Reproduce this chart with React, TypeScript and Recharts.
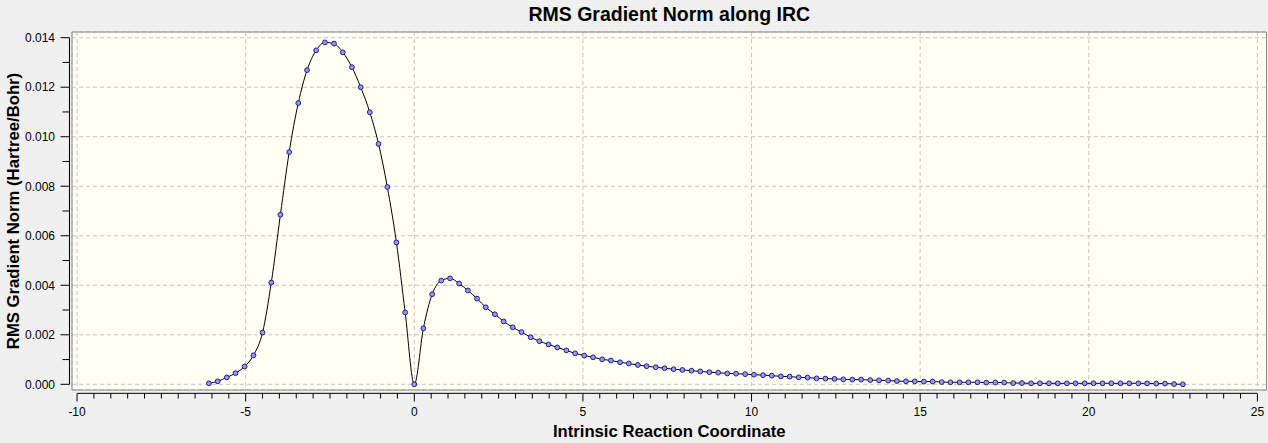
import React from 'react';
import { LineChart, Line, XAxis, YAxis, CartesianGrid, ReferenceLine, ReferenceArea } from 'recharts';

// IRC coordinate and RMS gradient norm (Hartree/Bohr), reverse direction (to the left of TS)
const IRC_X_REVERSE = [-6.09, -5.83, -5.56, -5.30, -5.03, -4.77, -4.50, -4.24, -3.97, -3.71, -3.44, -3.18, -2.91, -2.65, -2.38, -2.12, -1.85, -1.59, -1.32, -1.06, -0.80, -0.53, -0.27, 0];
const RMS_REVERSE = [0.00004, 0.00012, 0.00028, 0.00045, 0.00072, 0.00117, 0.00209, 0.00411, 0.00685, 0.00938, 0.01136, 0.01269, 0.01349, 0.01381, 0.01376, 0.01341, 0.01281, 0.01200, 0.01099, 0.00971, 0.00797, 0.00573, 0.00290, 0.00000];

// forward direction (to the right of TS)
const IRC_X_FORWARD = [0.27, 0.53, 0.80, 1.06, 1.33, 1.59, 1.86, 2.12, 2.39, 2.65,
  2.92, 3.18, 3.45, 3.71, 3.98, 4.24, 4.51, 4.77, 5.04, 5.30,
  5.57, 5.83, 6.10, 6.36, 6.63, 6.89, 7.16, 7.42, 7.69, 7.95,
  8.22, 8.48, 8.75, 9.01, 9.28, 9.54, 9.81, 10.07, 10.34, 10.60,
  10.87, 11.13, 11.40, 11.66, 11.93, 12.19, 12.46, 12.72, 12.99, 13.25,
  13.52, 13.78, 14.05, 14.31, 14.58, 14.84, 15.11, 15.37, 15.64, 15.90,
  16.17, 16.43, 16.70, 16.96, 17.23, 17.49, 17.76, 18.02, 18.29, 18.55,
  18.82, 19.08, 19.35, 19.61, 19.88, 20.14, 20.41, 20.67, 20.94, 21.20,
  21.47, 21.73, 22.00, 22.26, 22.53, 22.79];
const RMS_FORWARD = [0.00226, 0.00364, 0.00419, 0.00428, 0.00407, 0.00379, 0.00346, 0.00311, 0.00283, 0.00254,
  0.00230, 0.00211, 0.00190, 0.00174, 0.00161, 0.00149, 0.00137, 0.00125, 0.00116, 0.00109,
  0.00101, 0.00096, 0.00089, 0.00084, 0.00078, 0.00073, 0.00069, 0.00065, 0.00061, 0.00058,
  0.00055, 0.00052, 0.00049, 0.00047, 0.00044, 0.00043, 0.00041, 0.00039, 0.00037, 0.00035,
  0.00032, 0.00031, 0.00028, 0.00027, 0.00024, 0.00023, 0.00022, 0.00020, 0.00019, 0.00019,
  0.00017, 0.00016, 0.00015, 0.00013, 0.00012, 0.00012, 0.00011, 0.00011, 0.00009, 0.00008,
  0.00008, 0.00008, 0.00008, 0.00007, 0.00007, 0.00007, 0.00005, 0.00005, 0.00004, 0.00004,
  0.00004, 0.00004, 0.00004, 0.00004, 0.00004, 0.00004, 0.00004, 0.00004, 0.00004, 0.00004,
  0.00004, 0.00004, 0.00003, 0.00003, 0.00001, 0.00000];

const X_MAJOR_TICKS = [-10, -5, 0, 5, 10, 15, 20, 25];
const Y_MAJOR_TICKS = [0, 0.002, 0.004, 0.006, 0.008, 0.010, 0.012, 0.014];
const X_MINOR_STEP = 0.5;
const Y_MINOR_STEP = 0.001;

const X_DOMAIN: [number, number] = [-10.15, 25.27];
const Y_DOMAIN: [number, number] = [-0.00023, 0.01423];

const TITLE = 'RMS Gradient Norm along IRC';
const X_LABEL = 'Intrinsic Reaction Coordinate';
const Y_LABEL = 'RMS Gradient Norm (Hartree/Bohr)';

const X_MINOR_TICKS = Array.from({ length: Math.round((25 - -10) / X_MINOR_STEP) + 1 }, (_, i) => +(-10 + i * X_MINOR_STEP).toFixed(2));
const Y_MINOR_TICKS = Array.from({ length: Math.round(0.014 / Y_MINOR_STEP) + 1 }, (_, i) => +(i * Y_MINOR_STEP).toFixed(4));

const data = [
  ...IRC_X_REVERSE.map((x, i) => ({ x, y: RMS_REVERSE[i] })),
  ...IRC_X_FORWARD.map((x, i) => ({ x, y: RMS_FORWARD[i] })),
];

const FONT = '"Liberation Sans", Arial, sans-serif';

const XTick = (props: any) => {
  const { x, y, payload } = props;
  const v = payload.value;
  const major = X_MAJOR_TICKS.includes(v);
  return (
    <g>
      <line x1={x} x2={x} y1={y + 3.5} y2={y + 3.5 + (major ? 8 : 5)} stroke="#000" strokeWidth={1} />
      {major && (
        <text x={x} y={y + 26} textAnchor="middle" fontSize={12} fontFamily={FONT} fill="#000">
          {v}
        </text>
      )}
    </g>
  );
};

const YTick = (props: any) => {
  const { x, y, payload } = props;
  const v = payload.value;
  const major = Math.round(v * 1000) % 2 === 0;
  return (
    <g>
      <line x1={x - 2.5 - (major ? 9 : 7)} x2={x - 2.5} y1={y} y2={y} stroke="#000" strokeWidth={1} />
      {major && (
        <text x={x - 17} y={y} dy="0.355em" textAnchor="end" fontSize={12} fontFamily={FONT} fill="#000">
          {v.toFixed(3)}
        </text>
      )}
    </g>
  );
};

export default function App() {
  return (
    <div style={{ position: 'absolute', left: 0, top: 0, width: 1268, height: 443, background: '#F0F0F0', overflow: 'hidden' }}>
      <div
        style={{
          position: 'absolute',
          left: 72,
          width: 1194.5,
          top: 3,
          textAlign: 'center',
          fontFamily: FONT,
          fontWeight: 'bold',
          fontSize: 19.5,
          lineHeight: '22px',
          color: '#000',
        }}
      >
        {TITLE}
      </div>
      <LineChart width={1268} height={443} data={data} margin={{ top: 32, right: 1.5, bottom: 0, left: 0 }}>
        <XAxis xAxisId="grid" type="number" dataKey="x" domain={X_DOMAIN} ticks={X_MAJOR_TICKS} hide allowDataOverflow />
        <YAxis yAxisId="grid" type="number" domain={Y_DOMAIN} ticks={Y_MAJOR_TICKS} hide allowDataOverflow />
        <CartesianGrid
          xAxisId="grid"
          yAxisId="grid"
          stroke="#C4C4C4"
          strokeDasharray="4 3"
          fill="#FFFFF4"
          fillOpacity={1}
        />
        <XAxis
          type="number"
          dataKey="x"
          domain={X_DOMAIN}
          allowDataOverflow
          ticks={X_MINOR_TICKS}
          interval={0}
          tick={<XTick />}
          tickLine={false}
          axisLine={false}
          tickSize={0}
          tickMargin={0}
          height={53}
          label={{
            value: X_LABEL,
            position: 'insideBottom',
            offset: 6,
            style: { fontFamily: FONT, fontWeight: 'bold', fontSize: 16.7, fill: '#000' },
          }}
        />
        <YAxis
          type="number"
          dataKey="y"
          domain={Y_DOMAIN}
          allowDataOverflow
          ticks={Y_MINOR_TICKS}
          interval={0}
          tick={<YTick />}
          tickLine={false}
          axisLine={false}
          tickSize={0}
          tickMargin={0}
          width={72}
          label={{
            value: Y_LABEL,
            angle: -90,
            position: 'insideLeft',
            offset: 13,
            style: { textAnchor: 'middle', fontFamily: FONT, fontWeight: 'bold', fontSize: 16.7, fill: '#000' },
          }}
        />
        <ReferenceArea
          x1={X_DOMAIN[0]}
          x2={X_DOMAIN[1]}
          y1={Y_DOMAIN[0]}
          y2={Y_DOMAIN[1]}
          fill="none"
          stroke="#8A8A8A"
          strokeWidth={1}
          ifOverflow="visible"
        />
        <ReferenceLine
          segment={[{ x: -10, y: -0.000365 }, { x: 25, y: -0.000365 }]}
          stroke="#000"
          strokeWidth={1}
          ifOverflow="visible"
        />
        <ReferenceLine
          segment={[{ x: -10.225, y: 0 }, { x: -10.225, y: 0.014 }]}
          stroke="#000"
          strokeWidth={1}
          ifOverflow="visible"
        />
        <Line
          type="monotone"
          dataKey="y"
          stroke="#000"
          strokeWidth={1}
          dot={{ r: 2.4, fill: '#9898EC', stroke: '#1E1E8C', strokeWidth: 1 }}
          activeDot={false}
          isAnimationActive={false}
        />
      </LineChart>
    </div>
  );
}
